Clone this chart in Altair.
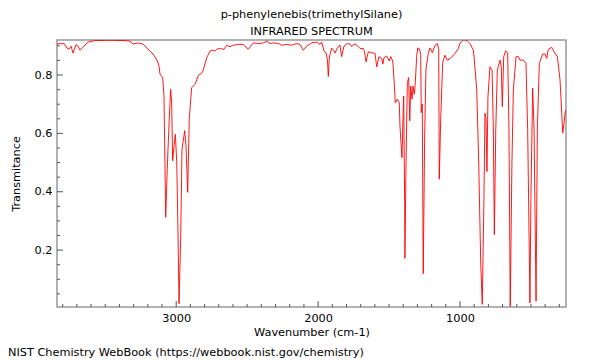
import altair as alt
import pandas as pd

# Spectrum
wavenumber = [
    3840, 3819, 3805, 3791, 3769, 3755, 3741, 3727, 3706, 3692, 3678, 3650, 3621, 3593, 3572,
    3466, 3361, 3326, 3304, 3269, 3234, 3199, 3185, 3163, 3135, 3121, 3114, 3095, 3086, 3074,
    3063, 3049, 3039, 3032, 3025, 3015, 3006, 2996, 2987, 2980, 2968, 2959, 2940, 2931, 2919,
    2908, 2891, 2867, 2844, 2820, 2811, 2785, 2762, 2743, 2726, 2710, 2679, 2663, 2644, 2621,
    2598, 2562, 2527, 2492, 2457, 2409, 2386, 2362, 2339, 2316, 2280, 2256, 2221, 2186, 2151,
    2128, 2104, 2080, 2045, 2010, 1987, 1975, 1958, 1944, 1934, 1928, 1922, 1916, 1904, 1886,
    1881, 1865, 1846, 1834, 1818, 1794, 1775, 1763, 1747, 1728, 1705, 1681, 1673, 1662, 1646,
    1622, 1599, 1587, 1571, 1552, 1543, 1536, 1517, 1498, 1488, 1474, 1465, 1456, 1442, 1428,
    1423, 1416, 1409, 1402, 1397, 1390, 1388, 1381, 1371, 1362, 1354, 1347, 1338, 1331, 1322,
    1315, 1305, 1298, 1287, 1277, 1273, 1266, 1259, 1249, 1240, 1223, 1211, 1195, 1176, 1160,
    1150, 1146, 1136, 1122, 1106, 1090, 1070, 1035, 1012, 1000, 977, 958, 942, 930, 906,
    901, 882, 868, 854, 843, 831, 824, 817, 810, 803, 789, 774, 765, 758, 748,
    737, 718, 709, 702, 692, 678, 664, 655, 646, 634, 624, 605, 589, 577, 554,
    535, 523, 507, 500, 488, 478, 464, 455, 441, 417, 401, 389, 378, 354, 338,
    314, 295, 276, 267, 258, 253,
]
transmittance = [
    0.905, 0.909, 0.906, 0.909, 0.892, 0.889, 0.899, 0.875, 0.904, 0.899, 0.885, 0.899, 0.913, 0.916, 0.918,
    0.919, 0.918, 0.916, 0.906, 0.910, 0.906, 0.889, 0.882, 0.872, 0.851, 0.831, 0.803, 0.791, 0.728, 0.312,
    0.479, 0.650, 0.751, 0.705, 0.506, 0.557, 0.597, 0.500, 0.250, 0.016, 0.250, 0.547, 0.609, 0.557, 0.398,
    0.650, 0.757, 0.768, 0.799, 0.806, 0.814, 0.859, 0.882, 0.885, 0.882, 0.890, 0.890, 0.888, 0.902, 0.897,
    0.902, 0.905, 0.905, 0.888, 0.910, 0.908, 0.910, 0.916, 0.908, 0.910, 0.908, 0.902, 0.905, 0.902, 0.908,
    0.905, 0.885, 0.899, 0.910, 0.913, 0.905, 0.913, 0.882, 0.876, 0.851, 0.795, 0.851, 0.872, 0.892, 0.882,
    0.875, 0.892, 0.903, 0.863, 0.899, 0.908, 0.906, 0.897, 0.906, 0.903, 0.891, 0.891, 0.879, 0.845, 0.880,
    0.876, 0.874, 0.828, 0.863, 0.857, 0.838, 0.859, 0.865, 0.848, 0.863, 0.848, 0.785, 0.705, 0.717, 0.705,
    0.626, 0.569, 0.517, 0.649, 0.728, 0.363, 0.172, 0.478, 0.774, 0.791, 0.643, 0.762, 0.717, 0.762, 0.734,
    0.774, 0.865, 0.893, 0.890, 0.871, 0.671, 0.700, 0.119, 0.591, 0.819, 0.876, 0.893, 0.876, 0.902, 0.908,
    0.888, 0.443, 0.649, 0.842, 0.868, 0.851, 0.856, 0.874, 0.891, 0.909, 0.920, 0.920, 0.914, 0.908, 0.885,
    0.863, 0.749, 0.498, 0.156, 0.014, 0.384, 0.669, 0.652, 0.469, 0.726, 0.828, 0.817, 0.612, 0.253, 0.612,
    0.817, 0.851, 0.828, 0.692, 0.863, 0.883, 0.876, 0.612, 0.007, 0.498, 0.749, 0.863, 0.863, 0.851, 0.851,
    0.840, 0.612, 0.019, 0.384, 0.755, 0.612, 0.025, 0.612, 0.840, 0.872, 0.872, 0.857, 0.888, 0.895, 0.880,
    0.863, 0.783, 0.601, 0.635, 0.675, 0.680,
]

x_labels = [1000, 2000, 3000]
y_labels = [0.2, 0.4, 0.6, 0.8]
x_minor = [v for v in range(300, 3900, 100) if v not in x_labels]
y_minor = [0.05, 0.1, 0.15, 0.25, 0.3, 0.35, 0.45, 0.5, 0.55, 0.65, 0.7, 0.75, 0.85, 0.9]

W, H = 509, 267
FONT = "DejaVu Sans"
FS = 11.3
xscale = alt.Scale(domain=[3840, 253], nice=False, zero=False)
yscale = alt.Scale(domain=[0.005, 0.92], nice=False, zero=False)

spec = pd.DataFrame({"wn": wavenumber, "t": transmittance})

line = alt.Chart(spec).mark_line(color="#ff0000", strokeWidth=0.9, clip=True).encode(
    x=alt.X("wn:Q", scale=xscale, sort=None,
            axis=alt.Axis(values=x_labels, format="d", ticks=False, domain=False, grid=False,
                          labelFontSize=FS, labelPadding=5, labelColor="#000000",
                          title="Wavenumber (cm-1)", titleFontSize=FS, titleFontWeight="normal",
                          titlePadding=3, titleColor="#000000", labelFont=FONT, titleFont=FONT)),
    y=alt.Y("t:Q", scale=yscale,
            axis=alt.Axis(values=y_labels, format=".1f", ticks=False, domain=False, grid=False,
                          labelFontSize=FS, labelPadding=5, labelColor="#000000",
                          title="Transmitance", titleFontSize=FS, titleFontWeight="normal",
                          titlePadding=13, titleColor="#000000", labelFont=FONT, titleFont=FONT)),
    order=alt.Order("wn:Q", sort="descending"),
)

tick_color = "#555555"
xmaj = alt.Chart(pd.DataFrame({"wn": x_labels})).mark_rule(color=tick_color, strokeWidth=1).encode(
    x=alt.X("wn:Q", scale=xscale), y=alt.value(H), y2=alt.value(H - 6))
xmin = alt.Chart(pd.DataFrame({"wn": x_minor})).mark_rule(color=tick_color, strokeWidth=1).encode(
    x=alt.X("wn:Q", scale=xscale), y=alt.value(H), y2=alt.value(H - 3))
ymaj = alt.Chart(pd.DataFrame({"t": y_labels})).mark_rule(color=tick_color, strokeWidth=1).encode(
    y=alt.Y("t:Q", scale=yscale), x=alt.value(0), x2=alt.value(6))
ymin = alt.Chart(pd.DataFrame({"t": y_minor})).mark_rule(color=tick_color, strokeWidth=1).encode(
    y=alt.Y("t:Q", scale=yscale), x=alt.value(0), x2=alt.value(3))

credit = alt.Chart(pd.DataFrame({"k": [0]})).mark_text(
    align="left", baseline="middle", fontSize=FS, font=FONT, color="#000000"
).encode(x=alt.value(-49), y=alt.value(H + 46),
         text=alt.value("NIST Chemistry WebBook (https://webbook.nist.gov/chemistry)"))

chart = alt.layer(line, xmaj, xmin, ymaj, ymin, credit).properties(
    width=W, height=H,
    title=alt.TitleParams(text=["p-phenylenebis(trimethylSilane)", "INFRARED SPECTRUM"],
                          fontSize=FS, fontWeight="normal", font=FONT, color="#000000",
                          anchor="middle", lineHeight=17, offset=3),
    autosize=alt.AutoSizeParams(type="none"),
    padding={"left": 49, "top": 32, "right": 26, "bottom": 52},
    background="#ffffff",
).configure_view(stroke="#999999", strokeWidth=1.5)

chart.save("out.html", embed_options={"renderer": "svg", "actions": False})
